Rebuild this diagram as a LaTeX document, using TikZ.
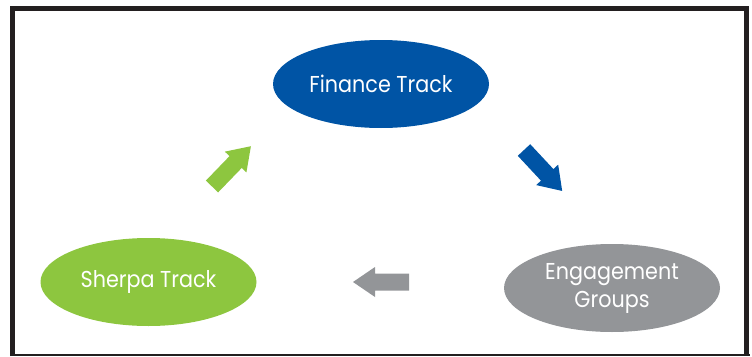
\documentclass[tikz,border=0pt]{standalone}
\usepackage{fontspec}
\setmainfont{Poppins}[FakeStretch=0.9]
\usetikzlibrary{shapes.geometric}
\definecolor{finblue}{RGB}{0,84,165}
\definecolor{sgreen}{RGB}{141,198,63}
\definecolor{egray}{RGB}{147,149,152}
\definecolor{frameblack}{RGB}{35,31,32}
\tikzset{
  oval/.style={ellipse, inner sep=0pt, minimum width=216pt, minimum height=88pt,
    text=white, font=\fontsize{23}{28}\selectfont, align=center},
  fatarrow/.pic={
    \fill[pic actions] (0,-8.5) -- (34,-8.5) -- (34,-15) -- (56,0) -- (34,15) -- (34,8.5) -- (0,8.5) -- cycle;
  }
}
\begin{document}
\begin{tikzpicture}[x=1pt,y=-1pt]
\useasboundingbox (0,0) rectangle (752,356);
\draw[frameblack, line width=5.3pt] (12.7,356) -- (12.7,8.4) -- (746.8,8.4) -- (746.8,356);
\draw[frameblack, line width=2pt] (10,354.5) -- (750,354.5);
\node[oval, fill=finblue] (fin) at (381,84) {Finance Track};
\node[oval, fill=sgreen] (sher) at (148.5,282) {Sherpa Track};
\node[oval, fill=egray] (eng) at (612,288) {Engagement\\Groups};
\pic[fill=sgreen, rotate=46] (ga) at (212,186.5) {fatarrow};
\pic[fill=finblue, rotate=-47] (ba) at (524,150) {fatarrow};
\pic[fill=egray, rotate=180] (gra) at (409,282) {fatarrow};
\end{tikzpicture}
\end{document}
